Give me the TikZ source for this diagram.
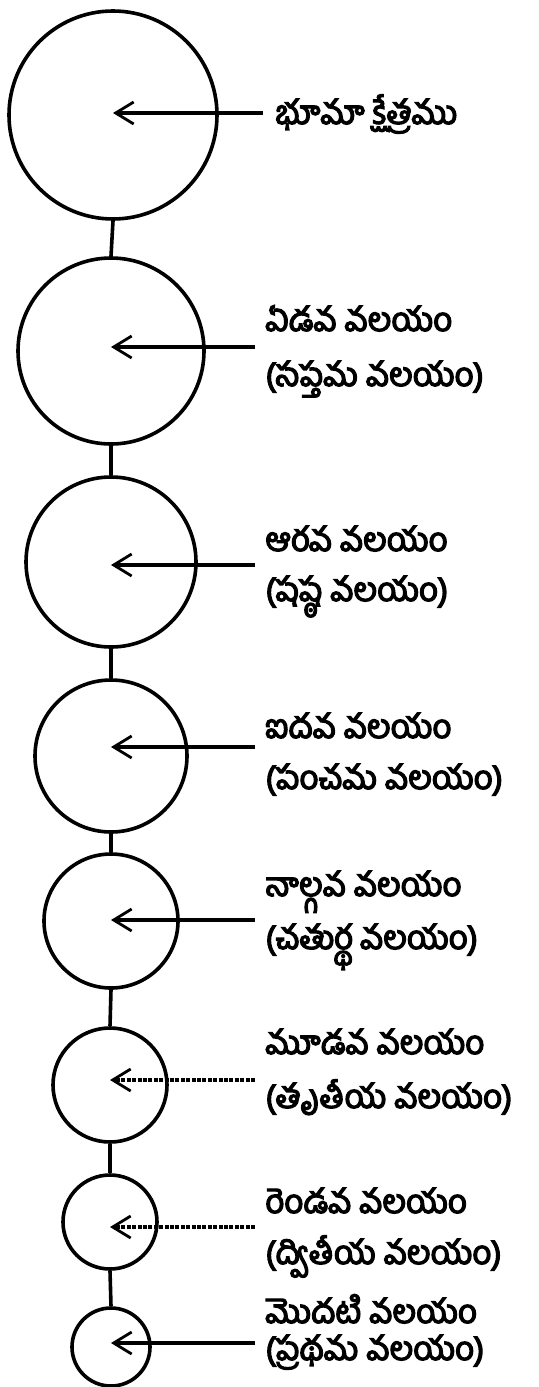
\documentclass[tikz,border=0pt]{standalone}
\usepackage{fontspec}
\newfontfamily\telugu[Script=Telugu, FakeBold=4]{Hind Guntur}
\usetikzlibrary{arrows.meta}
\tikzset{
  ring/.style={circle, draw, line width=1.8pt, inner sep=0pt},
  link/.style={line width=1.8pt},
  ptr/.style={line width=1.7pt, -{Straight Barb[length=9pt,width=11pt,line width=1.4pt]}},
  dptr/.style={ptr, dash pattern=on 2pt off 0.7pt},
  lbl/.style={anchor=base west, inner sep=0pt, font=\telugu\fontsize{16.5}{19}\selectfont}
}
\begin{document}
\begin{tikzpicture}[x=0.5pt,y=-0.5pt]
\useasboundingbox (0,0) rectangle (539,1387);
% circles (minimum size in pt = radius in px)
\node[ring, minimum size=104pt] (c1) at (113,115) {};
\node[ring, minimum size=93pt]  (c2) at (111,351) {};
\node[ring, minimum size=85pt]  (c3) at (111,562) {};
\node[ring, minimum size=76pt]  (c4) at (111,756) {};
\node[ring, minimum size=67pt]  (c5) at (111,921) {};
\node[ring, minimum size=57pt]  (c6) at (110,1085) {};
\node[ring, minimum size=47pt]  (c7) at (110,1222) {};
\node[ring, minimum size=39pt]  (c8) at (111,1347) {};
% vertical links
\draw[link] (c1.south) -- (c2.north);
\draw[link] (c2.south) -- (c3.north);
\draw[link] (c3.south) -- (c4.north);
\draw[link] (c4.south) -- (c5.north);
\draw[link] (c5.south) -- (c6.north);
\draw[link] (c6.south) -- (c7.north);
\draw[link] (c7.south) -- (c8.north);
% arrow start points
\coordinate (a1) at (263,113);
\coordinate (a2) at (255,347);
\coordinate (a3) at (255,565);
\coordinate (a4) at (255,747);
\coordinate (a5) at (255,920);
\coordinate (a6) at (255,1080);
\coordinate (a7) at (255,1227);
\coordinate (a8) at (255,1343);
\draw[ptr]  (a1) -- (c1.center |- a1);
\draw[ptr]  (a2) -- (c2.center |- a2);
\draw[ptr]  (a3) -- (c3.center |- a3);
\draw[ptr]  (a4) -- (c4.center |- a4);
\draw[ptr]  (a5) -- (c5.center |- a5);
\draw[dptr] (a6) -- (c6.center |- a6);
\draw[dptr] (a7) -- (c7.center |- a7);
\draw[ptr]  (a8) -- (c8.center |- a8);
% labels
\node[lbl] (t1)  at (275,124) {భూమా క్షేత్రము};
\node[lbl] (t2a) at (265,331) {ఏడవ వలయం};
\node[lbl] (t2b) at (265,386) {(సప్తమ వలయం)};
\node[lbl] (t3a) at (265,551) {ఆరవ వలయం};
\node[lbl] (t3b) at (265,601) {(షష్ఠ వలయం)};
\node[lbl] (t4a) at (265,738) {ఐదవ వలయం};
\node[lbl] (t4b) at (265,789) {(పంచమ వలయం)};
\node[lbl] (t5a) at (265,896) {నాల్గవ వలయం};
\node[lbl] (t5b) at (265,949) {(చతుర్థ వలయం)};
\node[lbl] (t6a) at (265,1054) {మూడవ వలయం};
\node[lbl] (t6b) at (265,1108) {(తృతీయ వలయం)};
\node[lbl] (t7a) at (265,1213) {రెండవ వలయం};
\node[lbl] (t7b) at (265,1264) {(ద్వితీయ వలయం)};
\node[lbl] (t8a) at (265,1323) {మొదటి వలయం};
\node[lbl] (t8b) at (265,1360) {(ప్రథమ వలయం)};
\end{tikzpicture}
\end{document}
